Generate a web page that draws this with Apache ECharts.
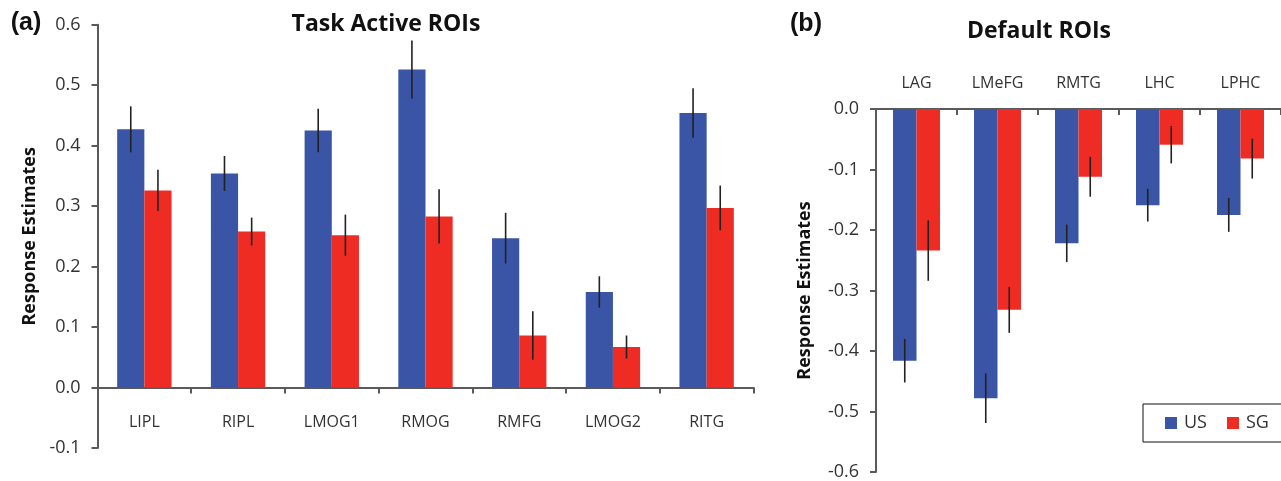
<!DOCTYPE html>
<html>
<head>
<meta charset="utf-8">
<script src="https://cdn.jsdelivr.net/npm/echarts@6/dist/echarts.min.js"></script>
<style>
html,body{margin:0;padding:0;background:#fff;}
#chart{width:1281px;height:481px;}
</style>
</head>
<body>
<div id="chart"></div>
<script>
// ---- Data ----
const catsA = ['LIPL', 'RIPL', 'LMOG1', 'RMOG', 'RMFG', 'LMOG2', 'RITG'];
const usA = [0.427, 0.354, 0.425, 0.526, 0.247, 0.158, 0.454];
const sgA = [0.326, 0.258, 0.252, 0.283, 0.086, 0.067, 0.297];
const usErrA = [0.038, 0.029, 0.036, 0.048, 0.042, 0.026, 0.041];
const sgErrA = [0.034, 0.023, 0.034, 0.045, 0.040, 0.019, 0.037];

const catsB = ['LAG', 'LMeFG', 'RMTG', 'LHC', 'LPHC'];
const usB = [-0.416, -0.478, -0.222, -0.159, -0.175];
const sgB = [-0.234, -0.332, -0.112, -0.059, -0.082];
const usErrB = [0.036, 0.041, 0.031, 0.027, 0.028];
const sgErrB = [0.050, 0.038, 0.033, 0.031, 0.033];

const seriesNames = ['US', 'SG'];
const titleA = 'Task Active ROIs';
const titleB = 'Default ROIs';
const yName = 'Response Estimates';

// ---- Styles ----
const BLUE = '#3A54A6';
const RED = '#EE2C24';
const AXIS = '#5a5a5a';
const TXT = '#333333';
const FONT = '"Open Sans", "DejaVu Sans", sans-serif';
const GAP = '42%';
const BARFRAC = 0.58 / 2;

function errData(vals, errs, off) {
  return vals.map((v, i) => [i, v, errs[i], off]);
}
function renderErr(params, api) {
  const i = api.value(0), v = api.value(1), e = api.value(2), off = api.value(3);
  const band = api.size([1, 0])[0];
  const x = api.coord([i, v])[0] + off * band * BARFRAC / 2;
  const y1 = api.coord([i, v + e])[1];
  const y2 = api.coord([i, v - e])[1];
  return {
    type: 'line',
    shape: { x1: x, y1: y1, x2: x, y2: y2 },
    style: { stroke: '#222', lineWidth: 1.6 }
  };
}

const axisLineStyle = { color: AXIS, width: 2 };
const yLabel = { color: TXT, fontSize: 18, fontFamily: FONT, margin: 17, formatter: v => v.toFixed(1) };

const chart = echarts.init(document.getElementById('chart'), null, { renderer: 'canvas' });
chart.setOption({
  animation: false,
  backgroundColor: '#fff',
  textStyle: { fontFamily: FONT },
  graphic: [
    { type: 'text', x: 26, y: 23, style: { text: '(a)', font: 'bold 25px "Liberation Sans", Arial, sans-serif', fill: '#111', align: 'center', verticalAlign: 'middle' } },
    { type: 'text', x: 806, y: 24, style: { text: '(b)', font: 'bold 25px "Liberation Sans", Arial, sans-serif', fill: '#111', align: 'center', verticalAlign: 'middle' } },
    { type: 'text', x: 386, y: 24, style: { text: titleA, font: 'bold 23px ' + FONT, fill: '#111', align: 'center', verticalAlign: 'middle' } },
    { type: 'text', x: 1039, y: 31, style: { text: titleB, font: 'bold 23px ' + FONT, fill: '#111', align: 'center', verticalAlign: 'middle' } }
  ],
  legend: {
    data: seriesNames,
    left: 1143, top: 404,
    width: 400,
    orient: 'horizontal',
    icon: 'rect',
    itemWidth: 12, itemHeight: 12,
    itemGap: 20,
    padding: [10, 40, 10, 22],
    borderColor: '#111', borderWidth: 1,
    textStyle: { fontSize: 18, color: TXT, fontFamily: FONT, padding: [0, 0, 0, 2] }
  },
  grid: [
    { left: 97.5, top: 24.7, width: 656, height: 423.3, containLabel: false },
    { left: 876, top: 109, width: 413, height: 365.5, containLabel: false }
  ],
  xAxis: [
    {
      type: 'category', gridIndex: 0, data: catsA,
      axisLine: { onZero: true, lineStyle: axisLineStyle },
      axisTick: { show: true, length: 6, lineStyle: axisLineStyle },
      axisLabel: { color: TXT, fontSize: 16, fontFamily: FONT, margin: -34 },
      splitLine: { show: false }
    },
    {
      type: 'category', gridIndex: 1, data: catsB, position: 'top',
      axisLine: { onZero: true, lineStyle: axisLineStyle },
      axisTick: { show: true, inside: true, length: 6, lineStyle: axisLineStyle },
      axisLabel: { color: TXT, fontSize: 16, fontFamily: FONT, margin: 18 },
      splitLine: { show: false }
    }
  ],
  yAxis: [
    {
      type: 'value', gridIndex: 0, min: -0.1, max: 0.6, interval: 0.1,
      name: yName, nameLocation: 'middle', nameRotate: 90, nameGap: 56,
      nameTextStyle: { fontSize: 18, fontWeight: 'bold', color: '#111', fontFamily: FONT },
      axisLine: { show: true, lineStyle: axisLineStyle },
      axisTick: { show: true, length: 6, lineStyle: axisLineStyle },
      axisLabel: yLabel,
      splitLine: { show: false }
    },
    {
      type: 'value', gridIndex: 1, min: -0.6, max: 0, interval: 0.1,
      name: yName, nameLocation: 'middle', nameRotate: 90, nameGap: 62,
      nameTextStyle: { fontSize: 18, fontWeight: 'bold', color: '#111', fontFamily: FONT },
      axisLine: { show: true, lineStyle: axisLineStyle },
      axisTick: { show: true, length: 6, lineStyle: axisLineStyle },
      axisLabel: yLabel,
      splitLine: { show: false }
    }
  ],
  series: [
    { name: 'US', type: 'bar', xAxisIndex: 0, yAxisIndex: 0, data: usA, itemStyle: { color: BLUE }, barGap: '0%', barCategoryGap: GAP },
    { name: 'SG', type: 'bar', xAxisIndex: 0, yAxisIndex: 0, data: sgA, itemStyle: { color: RED }, barGap: '0%', barCategoryGap: GAP },
    { name: 'US', type: 'bar', xAxisIndex: 1, yAxisIndex: 1, data: usB, itemStyle: { color: BLUE }, barGap: '0%', barCategoryGap: GAP },
    { name: 'SG', type: 'bar', xAxisIndex: 1, yAxisIndex: 1, data: sgB, itemStyle: { color: RED }, barGap: '0%', barCategoryGap: GAP },
    { name: 'errUSA', type: 'custom', xAxisIndex: 0, yAxisIndex: 0, renderItem: renderErr, data: errData(usA, usErrA, -1), encode: { x: 0, y: 1 }, z: 5, silent: true },
    { name: 'errSGA', type: 'custom', xAxisIndex: 0, yAxisIndex: 0, renderItem: renderErr, data: errData(sgA, sgErrA, 1), encode: { x: 0, y: 1 }, z: 5, silent: true },
    { name: 'errUSB', type: 'custom', xAxisIndex: 1, yAxisIndex: 1, renderItem: renderErr, data: errData(usB, usErrB, -1), encode: { x: 0, y: 1 }, z: 5, silent: true },
    { name: 'errSGB', type: 'custom', xAxisIndex: 1, yAxisIndex: 1, renderItem: renderErr, data: errData(sgB, sgErrB, 1), encode: { x: 0, y: 1 }, z: 5, silent: true }
  ]
});
</script>
</body>
</html>
